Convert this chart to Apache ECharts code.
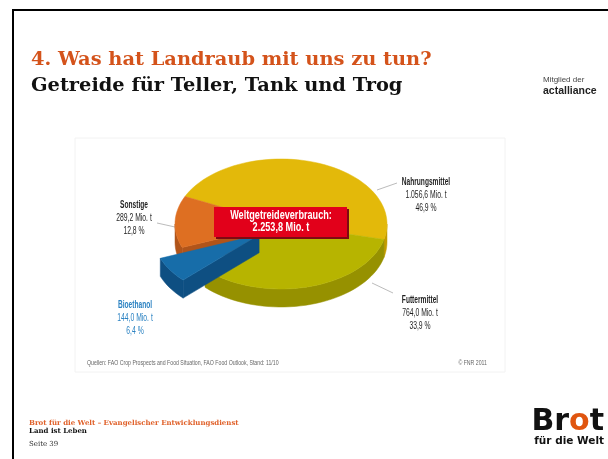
<!DOCTYPE html>
<html>
<head>
<meta charset="utf-8">
<script src="https://cdn.jsdelivr.net/npm/echarts@6/dist/echarts.min.js"></script>
<style>
  html, body { margin: 0; padding: 0; background: #fff; }
  #main { width: 608px; height: 459px; }
</style>
</head>
<body>
<div id="main"></div>
<script>
// Daten: Weltgetreideverbrauch (Mio. t)
var names = ['Nahrungsmittel', 'Futtermittel', 'Bioethanol', 'Sonstige'];
var tonnes = [1056.6, 764.0, 144.0, 289.2];
var percents = [46.9, 33.9, 6.4, 12.8];
var exploded = [false, false, true, false];

// Farben (Oberseite / Seitenwand)
var topColors = ['#e3b90a', '#b7b400', '#176da9', '#de6f22'];
var sideColors = ['#c29c00', '#969100', '#0e4f82', '#b0541a'];

var total = tonnes.reduce(function (a, b) { return a + b; }, 0);

// Geometrie der 3D-Torte
var cx = 281, cy = 224, rx = 106, ry = 65, depth = 18, startDeg = 205;
var explodeX = 26, explodeY = 20;

function de(v) {
  var s = v.toFixed(1).split('.');
  return s[0].replace(/\B(?=(\d{3})+(?!\d))/g, '.') + ',' + s[1];
}

function pt(deg, ox, oy, dz) {
  var r = deg * Math.PI / 180;
  return [cx + ox + rx * Math.cos(r), cy + oy + ry * Math.sin(r) + (dz || 0)];
}

function arc(a0, a1, ox, oy, dz) {
  var pts = [];
  var n = Math.max(2, Math.ceil(Math.abs(a1 - a0) / 3));
  for (var k = 0; k <= n; k++) pts.push(pt(a0 + (a1 - a0) * k / n, ox, oy, dz));
  return pts;
}

function renderItem(params, api) {
  var i = params.dataIndex;
  var cum = 0;
  for (var j = 0; j < i; j++) cum += tonnes[j];
  var a0 = startDeg + cum / total * 360;
  var a1 = a0 + api.value(0) / total * 360;
  var mid = (a0 + a1) / 2 * Math.PI / 180;
  var ox = 0, oy = 0;
  if (exploded[i]) { ox = explodeX * Math.cos(mid); oy = explodeY * Math.sin(mid); }
  var zb = exploded[i] ? 3 : 1;
  var children = [];
  var apex = [cx + ox, cy + oy];

  // aeussere Wand (nur vorderer Teil sichtbar)
  [0, 360].forEach(function (k) {
    var lo = Math.max(a0, k), hi = Math.min(a1, k + 180);
    if (hi > lo) {
      var pts = arc(lo, hi, ox, oy, 0).concat(arc(hi, lo, ox, oy, depth));
      children.push({ type: 'polygon', z2: zb, shape: { points: pts },
        style: { fill: sideColors[i], stroke: sideColors[i], lineWidth: 0.5 } });
    }
  });

  // Schnittflaechen an der Luecke
  var prev = (i + names.length - 1) % names.length, next = (i + 1) % names.length;
  function radial(a) {
    var p = pt(a, ox, oy, 0), q = pt(a, ox, oy, depth);
    children.push({ type: 'polygon', z2: zb, shape: { points: [apex, p, q, [apex[0], apex[1] + depth]] },
      style: { fill: sideColors[i], stroke: sideColors[i], lineWidth: 0.5 } });
  }
  if ((exploded[i] || exploded[prev]) && Math.cos(a0 * Math.PI / 180) < 0) radial(a0);
  if ((exploded[i] || exploded[next]) && Math.cos(a1 * Math.PI / 180) > 0) radial(a1);

  // Oberseite
  children.push({ type: 'polygon', z2: zb + 1, shape: { points: [apex].concat(arc(a0, a1, ox, oy, 0)) },
    style: { fill: topColors[i], stroke: topColors[i], lineWidth: 0.5 } });

  return { type: 'group', children: children };
}

// Beschriftungen (Position je Segment)
var labelPos = [[426, 182], [420, 300], [135, 305], [134, 205]];
var labelColor = ['#1f1f1f', '#1f1f1f', '#2b82c2', '#1f1f1f'];
var leaders = [[[377, 190], [397, 183]], [[372, 283], [393, 293]], null, [[157, 223], [175, 227]]];
var sans = '"Liberation Sans", Arial, sans-serif';

var graphics = [
  { type: 'polyline', shape: { points: [[13, 470], [13, 10], [620, 10]] },
    style: { stroke: '#000', lineWidth: 2, fill: null } },
  { type: 'rect', shape: { x: 75, y: 138, width: 430, height: 234 },
    style: { fill: null, stroke: '#f2f2f2', lineWidth: 1 } },
  { type: 'text', x: 31, y: 60, style: { text: '4. Was hat Landraub mit uns zu tun?', fill: '#d4531b',
      font: 'bold 19.4px "DejaVu Serif", serif', verticalAlign: 'middle' } },
  { type: 'text', x: 31, y: 86, style: { text: 'Getreide für Teller, Tank und Trog', fill: '#111',
      font: 'bold 19.4px "DejaVu Serif", serif', verticalAlign: 'middle' } },
  { type: 'text', x: 543, y: 80, style: { text: 'Mitglied der', fill: '#444',
      font: '8px ' + sans, verticalAlign: 'middle' } },
  { type: 'text', x: 543, y: 91, style: { text: 'actalliance', fill: '#222',
      font: 'bold 10.5px ' + sans, verticalAlign: 'middle' } },
  { type: 'text', x: 29, y: 423, style: { text: 'Brot für die Welt – Evangelischer Entwicklungsdienst', fill: '#e0612a',
      font: 'bold 7px "DejaVu Serif", serif', verticalAlign: 'middle' } },
  { type: 'text', x: 29, y: 431, style: { text: 'Land ist Leben', fill: '#111',
      font: 'bold 7px "DejaVu Serif", serif', verticalAlign: 'middle' } },
  { type: 'text', x: 29, y: 444, style: { text: 'Seite 39', fill: '#333',
      font: '7px "DejaVu Serif", serif', verticalAlign: 'middle' } },
  { type: 'text', x: 604, y: 422, style: { text: '{a|Br}{b|o}{a|t}', align: 'right', verticalAlign: 'middle',
      rich: { a: { fill: '#111', font: 'bold 30px "DejaVu Sans", sans-serif' },
              b: { fill: '#e0550f', font: 'bold 30px "DejaVu Sans", sans-serif' } } } },
  { type: 'text', x: 604, y: 441, style: { text: 'für die Welt', fill: '#111', align: 'right',
      font: 'bold 10.5px "DejaVu Sans", sans-serif', verticalAlign: 'middle' } },
  { type: 'text', x: 87, y: 363, scaleX: 0.8, style: { text: 'Quellen: FAO Crop Prospects and Food Situation, FAO Food Outlook, Stand: 11/10',
      fill: '#666', font: '6.5px ' + sans, verticalAlign: 'middle' } },
  { type: 'text', x: 487, y: 363, scaleX: 0.8, style: { text: '© FNR 2011', fill: '#666', align: 'right',
      font: '6.5px ' + sans, verticalAlign: 'middle' } },
  // Gesamtmenge
  { type: 'rect', z: 10, shape: { x: 216, y: 209, width: 133, height: 30 }, style: { fill: '#7e0a12' } },
  { type: 'rect', z: 10, shape: { x: 214, y: 207, width: 133, height: 30 }, style: { fill: '#e2001a' } },
  { type: 'text', z: 11, x: 281, y: 216, scaleX: 0.76, style: { text: 'Weltgetreideverbrauch:', fill: '#fff', align: 'center',
      font: 'bold 12px ' + sans, verticalAlign: 'middle' } },
  { type: 'text', z: 11, x: 281, y: 228, scaleX: 0.76, style: { text: de(total) + ' Mio. t', fill: '#fff', align: 'center',
      font: 'bold 12px ' + sans, verticalAlign: 'middle' } }
];

names.forEach(function (n, i) {
  var p = labelPos[i];
  graphics.push({ type: 'text', x: p[0], y: p[1], scaleX: 0.66, style: { text: n, fill: labelColor[i], align: 'center',
    font: 'bold 10px ' + sans, verticalAlign: 'middle' } });
  graphics.push({ type: 'text', x: p[0], y: p[1] + 13, scaleX: 0.68, style: { text: de(tonnes[i]) + ' Mio. t', fill: labelColor[i],
    align: 'center', font: '10px ' + sans, verticalAlign: 'middle' } });
  graphics.push({ type: 'text', x: p[0], y: p[1] + 26, scaleX: 0.68, style: { text: percents[i].toFixed(1).replace('.', ',') + ' %',
    fill: labelColor[i], align: 'center', font: '10px ' + sans, verticalAlign: 'middle' } });
  if (leaders[i]) {
    graphics.push({ type: 'line', shape: { x1: leaders[i][0][0], y1: leaders[i][0][1], x2: leaders[i][1][0], y2: leaders[i][1][1] },
      style: { stroke: '#aaa', lineWidth: 0.8 } });
  }
});

var chart = echarts.init(document.getElementById('main'));
chart.setOption({
  backgroundColor: '#fff',
  animation: false,
  graphic: graphics,
  series: [{
    type: 'custom',
    coordinateSystem: 'none',
    renderItem: renderItem,
    data: tonnes.map(function (v, i) { return { name: names[i], value: [v] }; })
  }]
});
</script>
</body>
</html>
